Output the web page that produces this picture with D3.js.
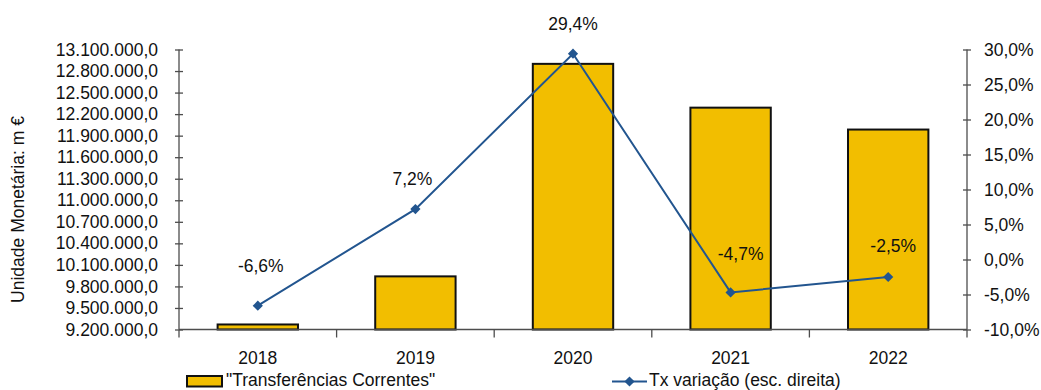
<!DOCTYPE html>
<html lang="pt">
<head>
<meta charset="utf-8">
<script src="https://cdn.jsdelivr.net/npm/d3@7"></script>
<style>
  html, body { margin: 0; padding: 0; background: #fff; }
  svg { display: block; font-family: "Liberation Sans", Arial, sans-serif; }
  text { fill: #111; }
</style>
</head>
<body>
<svg id="chart" width="1041" height="390"></svg>
<script>
// Categories and series
const years = ["2018", "2019", "2020", "2021", "2022"];
const transferencias = [9270000, 9940000, 12900000, 12290000, 11985000];
const taxaVariacao = [-6.6, 7.2, 29.4, -4.7, -2.5];

// Axis ticks
const leftTicks = d3.range(9200000, 13100001, 300000);
const rightTicks = d3.range(-10, 30.001, 5);

// Small nudges for the rate labels (dx, dy in px from the marker)
const labelNudge = [[3, -38], [-3, -29], [0, -28], [10, -37], [5, -29.5]];

const W = 1041, H = 390;
const margin = { top: 49.5, right: 74, bottom: 60.5, left: 179 };
const x0 = margin.left, x1 = W - margin.right;
const y0 = H - margin.bottom, y1 = margin.top;

const FONT = 17.5;
const axisColor = "#4d4d4d";
const barFill = "#F2BE00";
const lineColor = "#22558F";

const pt = d3.formatLocale({ decimal: ",", thousands: ".", grouping: [3], currency: ["", " €"], minus: "-" });
const fmtLeft = pt.format(",.1f");
const fmtPct = v => pt.format(".1f")(v) + "%";

const svg = d3.select("#chart");

const x = d3.scaleBand().domain(years).range([x0, x1]).paddingInner(0.49).paddingOuter(0.245);
const yL = d3.scaleLinear().domain([9200000, 13100000]).range([y0, y1]);
const yR = d3.scaleLinear().domain([-10, 30]).range([y0, y1]);
const cx = d => x(d) + x.bandwidth() / 2;

// Bars
svg.append("g").selectAll("rect")
  .data(years.map((y, i) => ({ year: y, v: transferencias[i] })))
  .join("rect")
  .attr("x", d => x(d.year))
  .attr("width", x.bandwidth())
  .attr("y", d => yL(d.v))
  .attr("height", d => y0 - yL(d.v))
  .attr("fill", barFill)
  .attr("stroke", "#111")
  .attr("stroke-width", 2);

// Left axis
const gL = svg.append("g").attr("transform", `translate(${x0},0)`)
  .call(d3.axisLeft(yL).tickValues(leftTicks).tickFormat(fmtLeft).tickSize(4).tickPadding(17));
gL.selectAll(".tick line").attr("x1", 4).attr("x2", -4);
gL.select(".domain").attr("d", `M0,${y1}V${y0}`);

// Right axis
const gR = svg.append("g").attr("transform", `translate(${x1},0)`)
  .call(d3.axisRight(yR).tickValues(rightTicks).tickFormat(fmtPct).tickSize(4).tickPadding(13));
gR.selectAll(".tick line").attr("x1", -4).attr("x2", 4);
gR.select(".domain").attr("d", `M0,${y1}V${y0}`);

[gL, gR].forEach(g => {
  g.selectAll("path, line").attr("stroke", axisColor).attr("stroke-width", 1.3);
  g.selectAll("text").attr("font-size", FONT).attr("font-family", "Liberation Sans, Arial, sans-serif").attr("fill", "#111");
});

// Bottom axis: labels at category centres, ticks at category boundaries
const gB = svg.append("g").attr("transform", `translate(0,${y0})`)
  .call(d3.axisBottom(x).tickSize(0).tickPadding(24));
gB.select(".domain").attr("d", `M${x0},0H${x1}`).attr("stroke", axisColor).attr("stroke-width", 1.3);
gB.selectAll("text").attr("font-size", FONT).attr("font-family", "Liberation Sans, Arial, sans-serif").attr("fill", "#111").attr("dy", "0");
gB.selectAll("text").attr("y", 30).attr("dominant-baseline", "middle");
const step = x.step();
gB.selectAll(".bnd").data(d3.range(years.length + 1)).join("line")
  .attr("class", "bnd")
  .attr("x1", i => x0 + i * step).attr("x2", i => x0 + i * step)
  .attr("y1", 0).attr("y2", 8)
  .attr("stroke", axisColor).attr("stroke-width", 1.3);

// Rate line
const pts = years.map((y, i) => ({ year: y, v: taxaVariacao[i], i }));
svg.append("path")
  .datum(pts)
  .attr("fill", "none")
  .attr("stroke", lineColor)
  .attr("stroke-width", 2)
  .attr("d", d3.line().x(d => cx(d.year)).y(d => yR(d.v)));

const diamond = d3.symbol(d3.symbolSquare, 52);
svg.append("g").selectAll("path")
  .data(pts).join("path")
  .attr("d", diamond)
  .attr("transform", d => `translate(${cx(d.year)},${yR(d.v)}) rotate(45)`)
  .attr("fill", lineColor);

// Rate labels
svg.append("g").selectAll("text")
  .data(pts).join("text")
  .attr("x", d => cx(d.year) + labelNudge[d.i][0])
  .attr("y", d => yR(d.v) + labelNudge[d.i][1])
  .attr("text-anchor", "middle")
  .attr("dominant-baseline", "middle")
  .attr("font-size", FONT)
  .text(d => fmtPct(d.v));

// Left axis title
svg.append("text")
  .attr("transform", `translate(19,${(y0 + y1) / 2 + 20}) rotate(-90)`)
  .attr("text-anchor", "middle")
  .attr("dominant-baseline", "middle")
  .attr("font-size", FONT)
  .text("Unidade Monetária: m €");

// Legend
const lg = svg.append("g");
lg.append("rect").attr("x", 187).attr("y", 376).attr("width", 35).attr("height", 10.5)
  .attr("fill", barFill).attr("stroke", "#111").attr("stroke-width", 2);
lg.append("text").attr("x", 226).attr("y", 381).attr("dominant-baseline", "middle")
  .attr("font-size", FONT).text("\"Transferências Correntes\"");
lg.append("line").attr("x1", 612).attr("x2", 647).attr("y1", 381.5).attr("y2", 381.5)
  .attr("stroke", lineColor).attr("stroke-width", 2);
lg.append("path").attr("d", diamond)
  .attr("transform", "translate(629.5,381.5) rotate(45)").attr("fill", lineColor);
lg.append("text").attr("x", 649).attr("y", 381).attr("dominant-baseline", "middle")
  .attr("font-size", FONT).text("Tx variação (esc. direita)");
</script>
</body>
</html>
